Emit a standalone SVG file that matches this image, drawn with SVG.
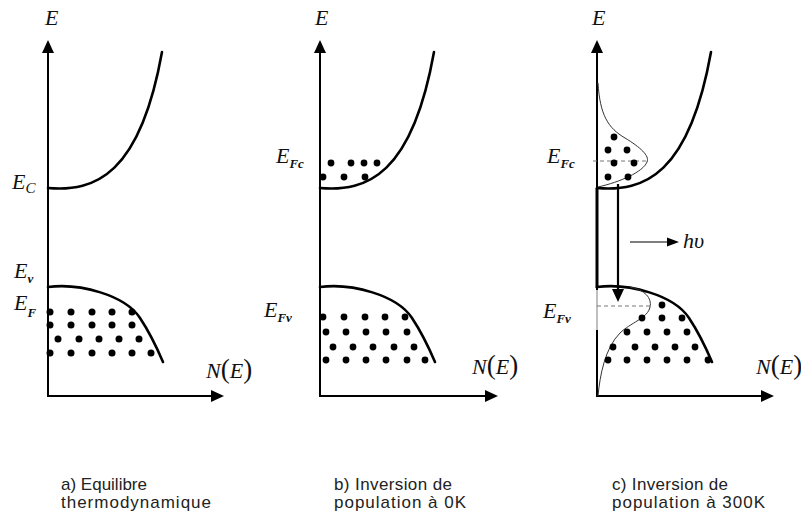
<svg xmlns="http://www.w3.org/2000/svg" width="801" height="515" viewBox="0 0 801 515">
<style>
.axis{stroke:#000;stroke-width:2;fill:none}
.band{stroke:#000;stroke-width:2.6;fill:none;stroke-linecap:round}
.thin{stroke:#333;stroke-width:1;fill:none}
.dash{stroke:#777;stroke-width:1;stroke-dasharray:4 3;fill:none}
.head{fill:#000}
.lbl{font-family:"Liberation Serif",serif;font-style:italic;font-size:22px;fill:#111}
.sub{font-family:"Liberation Serif",serif;font-style:italic;font-weight:bold;font-size:13px;fill:#111}
.par{font-style:normal;font-size:27px}
.cap{font-family:"Liberation Sans",Arial,sans-serif;font-size:17px;fill:#222}
.dots circle{fill:#000}
</style>
<rect width="801" height="515" fill="#fff"/>

<!-- Panel a -->
<g id="panel-a">
  <line class="axis" x1="48" y1="50" x2="48" y2="396"/>
  <line class="axis" x1="47" y1="396" x2="212" y2="396"/>
  <polygon class="head" points="48,40 42,53 54,53"/>
  <polygon class="head" points="224,396 211,390 211,402"/>
  <path class="band" d="M48 188 C95 192 140 175 162 52"/>
  <path class="band" d="M48 287 C80 283 125 295 140 318 C150 333 157 348 163 362"/>
  <g class="dots">
    <circle cx="50" cy="312" r="3.5"/><circle cx="71" cy="312" r="3.5"/><circle cx="92" cy="312" r="3.5"/><circle cx="112" cy="312" r="3.5"/><circle cx="132" cy="312" r="3.5"/>
    <circle cx="50" cy="325" r="3.5"/><circle cx="71" cy="325" r="3.5"/><circle cx="92" cy="325" r="3.5"/><circle cx="112" cy="325" r="3.5"/><circle cx="132" cy="325" r="3.5"/>
    <circle cx="58" cy="339" r="3.5"/><circle cx="79" cy="339" r="3.5"/><circle cx="99" cy="339" r="3.5"/><circle cx="119" cy="339" r="3.5"/><circle cx="139" cy="339" r="3.5"/>
    <circle cx="50" cy="353" r="3.5"/><circle cx="71" cy="353" r="3.5"/><circle cx="92" cy="353" r="3.5"/><circle cx="112" cy="353" r="3.5"/><circle cx="132" cy="353" r="3.5"/><circle cx="151" cy="353" r="3.5"/>
  </g>
  <text class="lbl" x="45" y="25">E</text>
  <text class="lbl" x="12" y="189">E<tspan class="sub" style="font-weight:normal;font-size:15px" dy="4">C</tspan></text>
  <text class="lbl" x="14" y="278">E<tspan class="sub" dy="5">v</tspan></text>
  <text class="lbl" x="14" y="310">E<tspan class="sub" dy="7">F</tspan></text>
  <text class="lbl" x="206" y="378">N<tspan class="par">(</tspan>E<tspan class="par">)</tspan></text>
  <text class="cap" x="61" y="490">a) Equilibre</text>
  <text class="cap" x="61" y="508" textLength="150" lengthAdjust="spacing">thermodynamique</text>
</g>

<!-- Panel b -->
<g id="panel-b">
  <line class="axis" x1="320" y1="50" x2="320" y2="396"/>
  <line class="axis" x1="319" y1="396" x2="486" y2="396"/>
  <polygon class="head" points="320,40 314,53 326,53"/>
  <polygon class="head" points="498,396 485,390 485,402"/>
  <path class="band" d="M320 188 C367 192 412 175 434 52"/>
  <path class="band" d="M320 287 C352 283 397 295 412 318 C422 333 429 348 435 362"/>
  <g class="dots">
    <circle cx="331" cy="163" r="3.4"/><circle cx="351" cy="163" r="3.4"/><circle cx="364" cy="163" r="3.4"/><circle cx="377" cy="163" r="3.4"/>
    <circle cx="323" cy="177" r="3.4"/><circle cx="344" cy="177" r="3.4"/><circle cx="365" cy="177" r="3.4"/>
    <circle cx="323" cy="317" r="3.4"/><circle cx="344" cy="317" r="3.4"/><circle cx="365" cy="317" r="3.4"/><circle cx="385" cy="317" r="3.4"/><circle cx="405" cy="317" r="3.4"/>
    <circle cx="326" cy="332" r="3.4"/><circle cx="346" cy="332" r="3.4"/><circle cx="366" cy="332" r="3.4"/><circle cx="386" cy="332" r="3.4"/><circle cx="407" cy="332" r="3.4"/>
    <circle cx="333" cy="347" r="3.4"/><circle cx="353" cy="347" r="3.4"/><circle cx="373" cy="347" r="3.4"/><circle cx="394" cy="347" r="3.4"/><circle cx="414" cy="347" r="3.4"/>
    <circle cx="326" cy="360" r="3.4"/><circle cx="346" cy="360" r="3.4"/><circle cx="366" cy="360" r="3.4"/><circle cx="386" cy="360" r="3.4"/><circle cx="407" cy="360" r="3.4"/><circle cx="425" cy="360" r="3.4"/>
  </g>
  <text class="lbl" x="315" y="25">E</text>
  <text class="lbl" x="276" y="163">E<tspan class="sub" dy="5">Fc</tspan></text>
  <text class="lbl" x="264" y="317">E<tspan class="sub" dy="5">Fv</tspan></text>
  <text class="lbl" x="472" y="374">N<tspan class="par">(</tspan>E<tspan class="par">)</tspan></text>
  <text class="cap" x="334" y="490" textLength="118" lengthAdjust="spacing">b) Inversion de</text>
  <text class="cap" x="334" y="508" textLength="132" lengthAdjust="spacing">population à 0K</text>
</g>

<!-- Panel c -->
<g id="panel-c">
  <line class="axis" x1="597" y1="50" x2="597" y2="290"/>
  <line stroke="#aaa" stroke-width="1.5" x1="597" y1="290" x2="597" y2="330"/>
  <line class="axis" x1="597" y1="330" x2="597" y2="396"/>
  <line class="axis" x1="596" y1="396" x2="762" y2="396"/>
  <polygon class="head" points="597,40 591,53 603,53"/>
  <polygon class="head" points="774,396 761,390 761,402"/>
  <line stroke="#000" stroke-width="3" x1="597" y1="188" x2="597" y2="288"/>
  <path class="band" d="M597 188 C644 192 689 175 711 52"/>
  <path class="band" d="M597 287 C629 283 674 295 689 318 C699 333 706 348 712 362"/>
  <path class="thin" d="M598 83 C600 115 608 128 625 138 C640 147 650 156 647 162 C643 172 620 182 598 187"/>
  <path class="thin" d="M630 287 C645 290 652 298 650 307 C648 318 630 323 620 333 C605 348 600 375 598 396"/>
  <line class="dash" x1="593" y1="161" x2="648" y2="161"/>
  <line class="dash" x1="597" y1="306" x2="650" y2="306"/>
  <g class="dots">
    <circle cx="614" cy="137" r="3.4"/><circle cx="608" cy="150" r="3.4"/><circle cx="627" cy="150" r="3.4"/><circle cx="614" cy="163" r="3.4"/><circle cx="634" cy="163" r="3.4"/><circle cx="608" cy="177" r="3.4"/><circle cx="628" cy="177" r="3.4"/>
    <circle cx="662" cy="305" r="3.4"/>
    <circle cx="642" cy="318" r="3.4"/><circle cx="662" cy="318" r="3.4"/><circle cx="682" cy="318" r="3.4"/>
    <circle cx="627" cy="332" r="3.4"/><circle cx="647" cy="332" r="3.4"/><circle cx="667" cy="332" r="3.4"/><circle cx="687" cy="332" r="3.4"/>
    <circle cx="613" cy="347" r="3.4"/><circle cx="635" cy="347" r="3.4"/><circle cx="655" cy="347" r="3.4"/><circle cx="675" cy="347" r="3.4"/><circle cx="695" cy="347" r="3.4"/>
    <circle cx="608" cy="360" r="3.4"/><circle cx="627" cy="360" r="3.4"/><circle cx="647" cy="360" r="3.4"/><circle cx="667" cy="360" r="3.4"/><circle cx="687" cy="360" r="3.4"/><circle cx="708" cy="360" r="3.4"/>
  </g>
  <text class="lbl" x="592" y="25">E</text>
  <text class="lbl" x="547" y="163">E<tspan class="sub" dy="5">Fc</tspan></text>
  <text class="lbl" x="543" y="318">E<tspan class="sub" dy="5">Fv</tspan></text>
  <text class="lbl" x="756" y="374">N<tspan class="par">(</tspan>E<tspan class="par">)</tspan></text>
  <text class="cap" x="612" y="490" textLength="116" lengthAdjust="spacing">c) Inversion de</text>
  <text class="cap" x="612" y="508" textLength="153" lengthAdjust="spacing">population à 300K</text>
</g>

<!-- Connectors -->
<g id="connectors">
  <line stroke="#000" stroke-width="2.2" x1="618" y1="184" x2="618" y2="292"/>
  <polygon class="head" points="618,302 612,289 624,289"/>
  <line stroke="#000" stroke-width="1.2" x1="630" y1="242" x2="670" y2="242"/>
  <polygon class="head" points="679,242 667,237.5 667,246.5"/>
  <text class="lbl" x="683" y="248">hυ</text>
</g>
</svg>
